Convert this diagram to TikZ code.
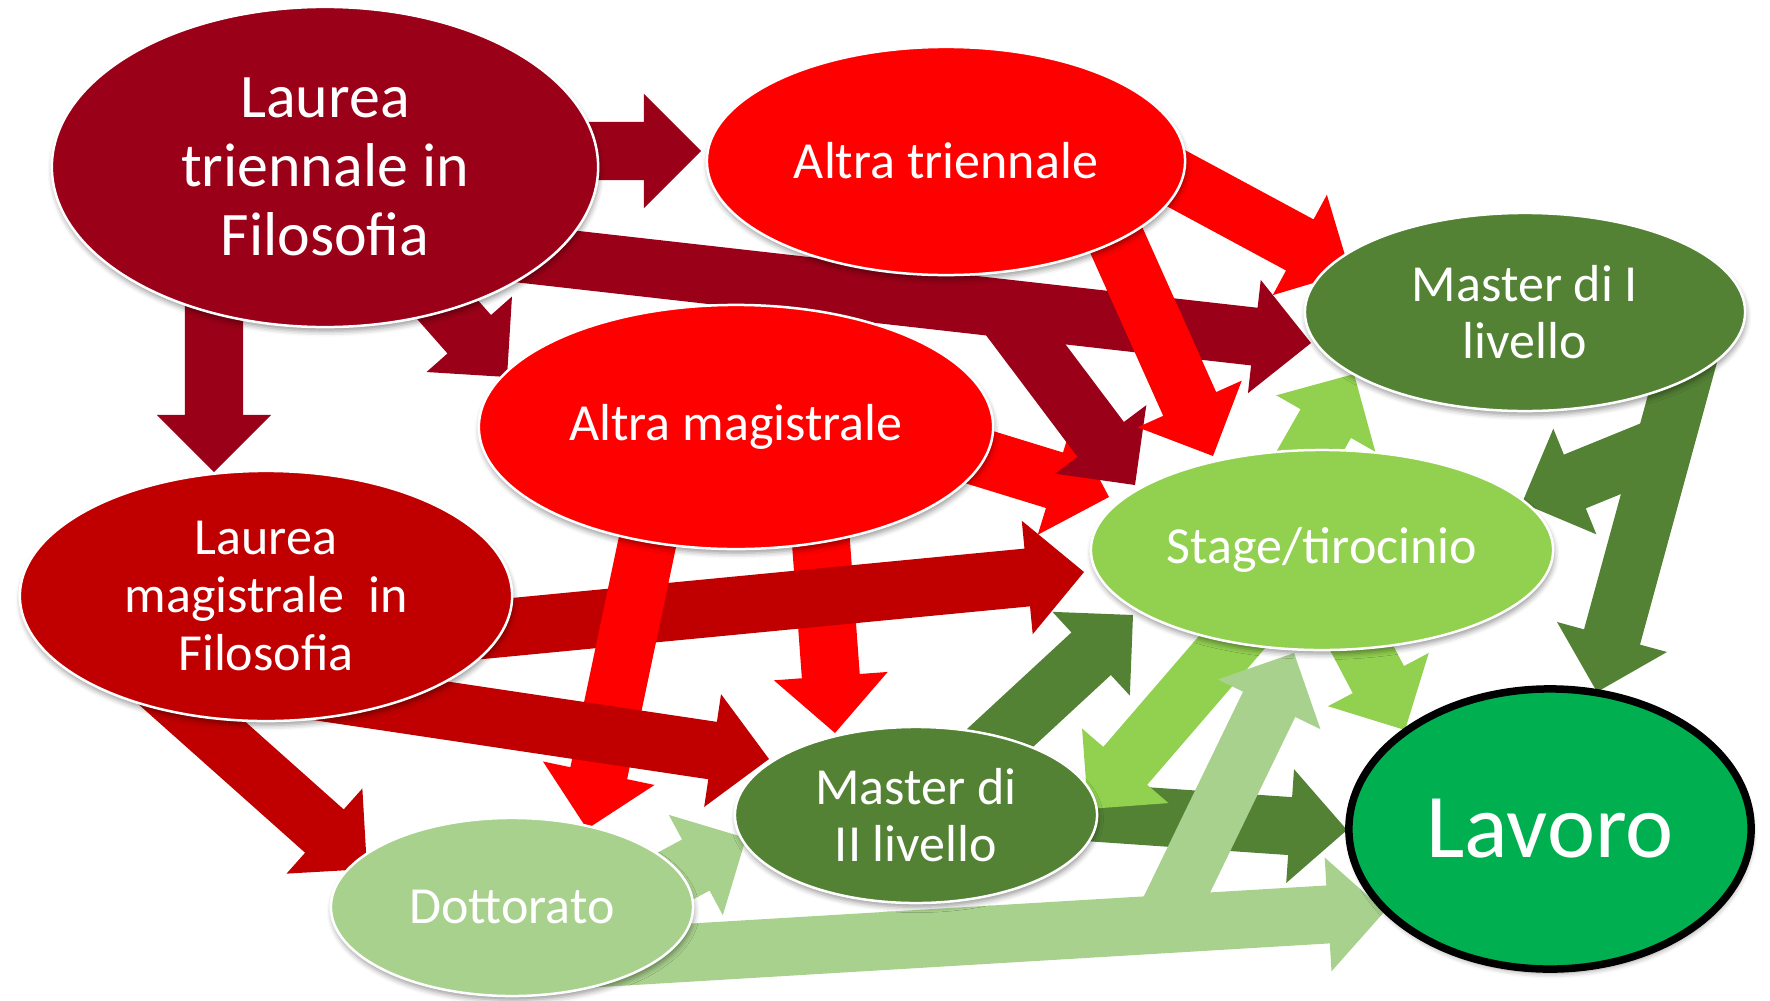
\documentclass[tikz,border=0pt]{standalone}
\usepackage{fontspec}
\setmainfont{Carlito}
\usetikzlibrary{shapes.geometric,calc,shadows.blur}
\pgfdeclarelayer{back}
\pgfsetlayers{back,main}

\definecolor{tridark}{RGB}{154,0,24}
\definecolor{magred}{RGB}{192,0,0}
\definecolor{altred}{RGB}{255,0,0}
\definecolor{masgreen}{RGB}{84,130,53}
\definecolor{stagegreen}{RGB}{146,208,80}
\definecolor{docgreen}{RGB}{169,209,142}
\definecolor{jobgreen}{RGB}{0,176,80}

% block arrow: colour, start, tip
\newcommand{\blockarrow}[3]{%
  \path (#2) coordinate (ba-s) (#3) coordinate (ba-t);
  \path ($(ba-t)!0.57cm!(ba-s)$) coordinate (ba-b);
  \fill [#1] ($(ba-s)!0.29cm!90:(ba-t)$) -- ($(ba-b)!0.29cm!-90:(ba-s)$)
    -- ($(ba-b)!0.57cm!-90:(ba-s)$) -- (ba-t)
    -- ($(ba-b)!0.57cm!90:(ba-s)$) -- ($(ba-b)!0.29cm!90:(ba-s)$)
    -- ($(ba-s)!0.29cm!-90:(ba-t)$) -- cycle;}

\begin{document}
\begin{tikzpicture}[x = 0.01cm, y = -0.01cm,
                    bubble/.style = {ellipse, draw = white, line width = 0.025cm, inner sep = 0pt,
                                     text = white, align = center,
                                     font = \fontsize{14.8pt}{16.4pt}\selectfont,
                                     blur shadow = {shadow xshift = 0.3pt, shadow yshift = -1.2pt,
                                                    shadow blur radius = 1.5pt, shadow opacity = 40}}]
  \useasboundingbox (0,0) rectangle (1770,1000);

  \node [bubble, fill = tridark, minimum width = 5.46cm, minimum height = 3.2cm,
         font = \fontsize{17.6pt}{19.6pt}\selectfont] (LT) at (325,167) {Laurea\\triennale in\\Filosofia};
  \node [bubble, fill = altred, minimum width = 4.78cm, minimum height = 2.28cm] (AT) at (946,161) {Altra triennale};
  \node [bubble, fill = altred, minimum width = 5.14cm, minimum height = 2.44cm] (AM) at (736,427) {Altra magistrale};
  \node [bubble, fill = magred, minimum width = 4.92cm, minimum height = 2.5cm] (LM) at (266,596) {Laurea\\magistrale\ \ in\\Filosofia};
  \node [bubble, fill = masgreen, minimum width = 4.4cm, minimum height = 1.98cm] (M1) at (1525,312) {Master di I\\livello};
  \node [bubble, fill = stagegreen, minimum width = 4.62cm, minimum height = 2cm] (ST) at (1322,550) {Stage/tirocinio};
  \node [bubble, fill = masgreen, minimum width = 3.62cm, minimum height = 1.76cm] (M2) at (916,815) {Master di\\II livello};
  \node [bubble, fill = docgreen, minimum width = 3.62cm, minimum height = 1.78cm] (DO) at (512,907) {Dottorato};
  \node [bubble, fill = jobgreen, draw = black, line width = 0.075cm, minimum width = 4.02cm, minimum height = 2.8cm,
         font = \fontsize{25.9pt}{28pt}\selectfont] (LA) at (1550,829) {Lavoro};

  \coordinate (LTout) at ($(LT)+(155,82)$);
  \coordinate (M1in) at ($(M1)+(-214,31)$);
  \coordinate (fork1) at ($(LTout)!0.628!(M1in)$);
  \coordinate (DOout) at ($(DO)+(38,54)$);
  \coordinate (LAin) at ($(LA)+(-165,82)$);
  \coordinate (fork2) at ($(DOout)!0.7335!(LAin)$);
  \coordinate (M1out) at ($(M1)+(174,6)$);
  \coordinate (LAtop) at ($(LA)+(47,-137)$);
  \coordinate (fork3) at ($(M1out)!0.3396!(LAtop)$);

  \begin{pgfonlayer}{back}
    % red paths
    \blockarrow{altred}{$(AM)+(78,21)$}{$(M2)+(-81,-82)$}
    \blockarrow{magred}{$(LM)+(164,39)$}{$(ST)+(-238,22)$}
    \blockarrow{altred}{$(AM)+(-77,60)$}{$(DO)+(75,-78)$}
    \blockarrow{magred}{$(LM)+(-11,86)$}{$(M2)+(-147,-56)$}
    \blockarrow{magred}{$(LM)+(-165,36)$}{$(DO)+(-145,-38)$}
    \blockarrow{tridark}{LTout}{M1in}
    \blockarrow{altred}{$(AM)+(80,-20)$}{$(ST)+(-213,-53)$}
    \blockarrow{tridark}{fork1}{$(ST)+(-187,-65)$}
    \blockarrow{altred}{$(AT)+(155,45)$}{$(ST)+(-109,-94)$}
    \blockarrow{altred}{$(AT)+(135,-34)$}{$(M1)+(-175,-40)$}
    \blockarrow{tridark}{$(LT)+(235,-16)$}{$(AT)+(-245,-10)$}
    \blockarrow{tridark}{$(LT)+(-111,123)$}{$(LM)+(-52,-124)$}
    \blockarrow{tridark}{$(LT)+(76,90)$}{$(AM)+(-229,-50)$}

    % green paths
    \blockarrow{masgreen}{$(M2)+(97,-8)$}{$(LA)+(-203,1)$}
    \blockarrow{masgreen}{$(M2)+(31,-28)$}{$(ST)+(-189,65)$}
    \blockarrow{stagegreen}{$(ST)+(-33,26)$}{$(M2)+(172,-6)$}
    \blockarrow{docgreen}{DOout}{LAin}
    \blockarrow{docgreen}{fork2}{$(ST)+(-28,103)$}
    \blockarrow{docgreen}{$(DO)+(78,15)$}{$(M2)+(-170,23)$}
    \blockarrow{stagegreen}{$(ST)+(-70,3)$}{$(M1)+(-171,62)$}
    \blockarrow{stagegreen}{$(ST)+(-28,-30)$}{$(LA)+(-145,-99)$}
    \blockarrow{masgreen}{M1out}{LAtop}
    \blockarrow{masgreen}{fork3}{$(ST)+(200,-47)$}
  \end{pgfonlayer}
\end{tikzpicture}
\end{document}
